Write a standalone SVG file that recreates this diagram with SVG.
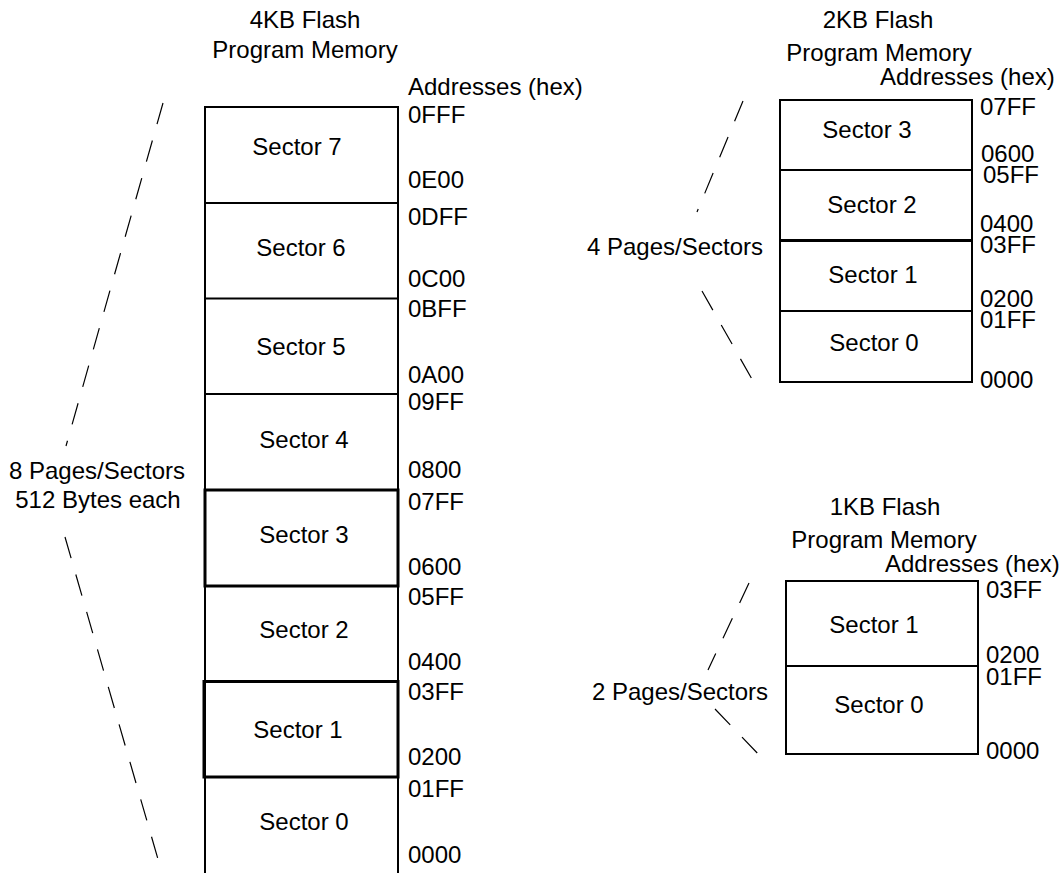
<svg xmlns="http://www.w3.org/2000/svg" width="1064" height="873" viewBox="0 0 1064 873">
<style>
text{font-family:"Liberation Sans",Arial,sans-serif;font-size:24px;fill:#000}
.c{text-anchor:middle}
.box{fill:#fff;stroke:#000;stroke-width:2}
.thick{fill:none;stroke:#000;stroke-width:3}
.dash{stroke:#000;stroke-width:1.2;fill:none;stroke-dasharray:22 17}
</style>
<rect width="1064" height="873" fill="#fff"/>

<g id="connectors">
<line class="dash" x1="163" y1="103" x2="66" y2="446"/>
<line class="dash" x1="65" y1="537" x2="164" y2="880"/>
<line class="dash" x1="743" y1="101" x2="697" y2="212"/>
<line class="dash" x1="702" y1="291" x2="757" y2="388"/>
<line class="dash" x1="749" y1="583" x2="708" y2="670"/>
<line class="dash" x1="715" y1="709" x2="762" y2="758"/>
</g>

<g id="flash4k">
<text class="c" x="305" y="28">4KB Flash</text>
<text class="c" x="305" y="58">Program Memory</text>
<text x="408" y="95">Addresses (hex)</text>
<text class="c" x="97" y="479">8 Pages/Sectors</text>
<text class="c" x="98" y="508">512 Bytes each</text>
<rect class="box" x="205" y="107" width="193" height="780"/>
</g>

<g id="s4k7"><line x1="205" y1="203" x2="398" y2="203" stroke="#000" stroke-width="2"/><text class="c" x="297" y="155">Sector 7</text><text x="408" y="123">0FFF</text><text x="408" y="188">0E00</text></g>
<g id="s4k6"><line x1="205" y1="298.5" x2="398" y2="298.5" stroke="#000" stroke-width="2"/><text class="c" x="301" y="256">Sector 6</text><text x="408" y="225">0DFF</text><text x="408" y="287">0C00</text></g>
<g id="s4k5"><line x1="205" y1="394" x2="398" y2="394" stroke="#000" stroke-width="2"/><text class="c" x="301" y="355">Sector 5</text><text x="408" y="317">0BFF</text><text x="408" y="383">0A00</text></g>
<g id="s4k4"><text class="c" x="304" y="448">Sector 4</text><text x="408" y="410">09FF</text><text x="408" y="478">0800</text></g>
<g id="s4k3"><rect class="thick" x="205" y="490" width="193" height="96"/><text class="c" x="304" y="543">Sector 3</text><text x="408" y="510">07FF</text><text x="408" y="575">0600</text></g>
<g id="s4k2"><text class="c" x="304" y="638">Sector 2</text><text x="408" y="605">05FF</text><text x="408" y="670">0400</text></g>
<g id="s4k1"><rect class="thick" x="204" y="681.5" width="194" height="95.5"/><text class="c" x="298" y="738">Sector 1</text><text x="408" y="700">03FF</text><text x="408" y="765">0200</text></g>
<g id="s4k0"><text class="c" x="304" y="830">Sector 0</text><text x="408" y="797">01FF</text><text x="408" y="863">0000</text></g>

<g id="flash2k">
<text class="c" x="878" y="28">2KB Flash</text>
<text class="c" x="879" y="61">Program Memory</text>
<text x="880" y="85">Addresses (hex)</text>
<text class="c" x="675" y="255">4 Pages/Sectors</text>
<rect class="box" x="780" y="100" width="192" height="282"/>
</g>
<g id="s2k3"><line x1="780" y1="170" x2="972" y2="170" stroke="#000" stroke-width="2"/><text class="c" x="867" y="138">Sector 3</text><text x="980" y="115">07FF</text><text x="981" y="162">0600</text></g>
<g id="s2k2"><line x1="780" y1="240.5" x2="972" y2="240.5" stroke="#000" stroke-width="3"/><text class="c" x="872" y="213">Sector 2</text><text x="983" y="183">05FF</text><text x="980" y="232">0400</text></g>
<g id="s2k1"><line x1="780" y1="311" x2="972" y2="311" stroke="#000" stroke-width="2"/><text class="c" x="873" y="283">Sector 1</text><text x="980" y="253">03FF</text><text x="980" y="307">0200</text></g>
<g id="s2k0"><text class="c" x="874" y="351">Sector 0</text><text x="980" y="328">01FF</text><text x="980" y="388">0000</text></g>

<g id="flash1k">
<text class="c" x="885" y="515">1KB Flash</text>
<text class="c" x="884" y="548">Program Memory</text>
<text x="885" y="572">Addresses (hex)</text>
<text class="c" x="680" y="700">2 Pages/Sectors</text>
<rect class="box" x="786" y="581" width="192" height="173"/>
</g>
<g id="s1k1"><line x1="786" y1="666" x2="978" y2="666" stroke="#000" stroke-width="2"/><text class="c" x="874" y="633">Sector 1</text><text x="986" y="598">03FF</text><text x="986" y="663">0200</text></g>
<g id="s1k0"><text class="c" x="879" y="713">Sector 0</text><text x="986" y="685">01FF</text><text x="986" y="759">0000</text></g>
</svg>
